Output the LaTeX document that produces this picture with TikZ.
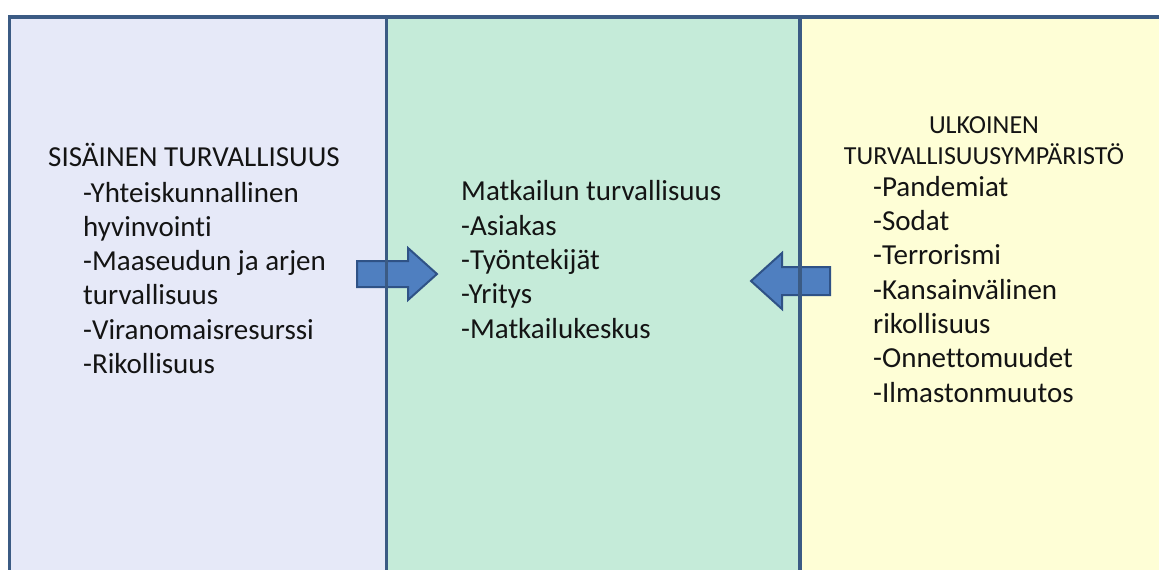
\documentclass[tikz,border=0pt]{standalone}
\usepackage{fontspec}
\setmainfont{Carlito}[Ligatures=NoCommon]
\usepackage{xcolor}
\usetikzlibrary{positioning}

\definecolor{panelline}{HTML}{3B5B84}
\definecolor{leftfill}{HTML}{E6E9F8}
\definecolor{midfill}{HTML}{C5EBD9}
\definecolor{rightfill}{HTML}{FEFED6}
\definecolor{arrowfill}{HTML}{4F7FC0}
\definecolor{arrowline}{HTML}{2F5286}
\definecolor{textcol}{HTML}{141414}

\tikzset{
  panelline/.style={draw=panelline, line width=3.5pt},
  listtext/.style={anchor=base west, inner sep=0pt, align=left, text=textcol,
    font=\fontsize{29}{34.3}\selectfont},
  headtext/.style={anchor=base, inner sep=0pt, align=center, text=textcol,
    font=\fontsize{26}{31}\selectfont},
  blockarrow/.style={fill=arrowfill, draw=arrowline, line width=2pt, line join=miter}
}

\begin{document}
\begin{tikzpicture}[x=1pt,y=-1pt]
    \useasboundingbox (0,0) rectangle (1159,570);
    \clip (0,0) rectangle (1159,570);
    \fill[white] (0,0) rectangle (1159,570);

    % Panels
    \fill[leftfill] (9.5,17) rectangle (386.5,600);
    \fill[midfill] (386.5,17) rectangle (800,600);
    \fill[rightfill] (800,17) rectangle (1180,600);

    % Block arrows
    \draw[blockarrow] (357,261) -- (408,261) -- (408,248) -- (437,274)
        -- (408,300) -- (408,287) -- (357,287) -- cycle;
    \draw[blockarrow] (830,267) -- (782,267) -- (782,253) -- (751,281)
        -- (782,309) -- (782,295) -- (830,295) -- cycle;

    % Borders
    \draw[panelline] (9.5,600) -- (9.5,17) -- (1180,17);
    \draw[panelline] (386.5,17) -- (386.5,600);
    \draw[panelline] (800,17) -- (800,600);

    % Left panel (base = last line)
    \node[listtext] (lhead) at (48,166.5) {SISÄINEN TURVALLISUUS};
    \node[listtext] (litems) at (83,373.5) {-Yhteiskunnallinen\\hyvinvointi\\-Maaseudun ja arjen\\turvallisuus\\-Viranomaisresurssi\\-Rikollisuus};

    % Middle panel
    \node[listtext] (mitems) at (461,338) {Matkailun turvallisuus\\-Asiakas\\-Työntekijät\\-Yritys\\-Matkailukeskus};

    % Right panel
    \node[headtext] (rhead) at (984,164) {ULKOINEN\\TURVALLISUUSYMPÄRISTÖ};
    \node[listtext] (ritems) at (873,402) {-Pandemiat\\-Sodat\\-Terrorismi\\-Kansainvälinen\\rikollisuus\\-Onnettomuudet\\-Ilmastonmuutos};
\end{tikzpicture}
\end{document}
